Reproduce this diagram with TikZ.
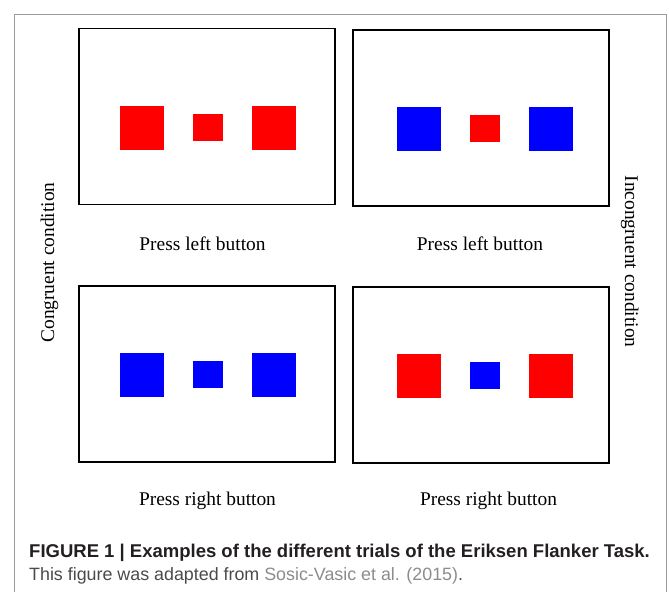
\documentclass[tikz,border=0pt]{standalone}
\usepackage{fontspec}
\setmainfont{Liberation Serif}
\newfontfamily\capfont{Liberation Sans}
\usetikzlibrary{positioning}
\definecolor{captext}{HTML}{231F20}
\definecolor{srctext}{HTML}{4A4A4A}
\definecolor{refgray}{HTML}{8C8C8C}
\definecolor{framegray}{HTML}{9A9A9A}

\begin{document}
\begin{tikzpicture}
[x=1pt,y=-1pt,
 panel/.style={draw=black,line width=1.5pt,minimum width=256pt,minimum height=176pt,inner sep=0pt},
 flank/.style={fill=#1,minimum size=44pt,inner sep=0pt},
 target/.style={fill=#1,minimum width=30pt,minimum height=27pt,inner sep=0pt},
 lab/.style={font=\fontsize{19.4}{22}\selectfont,anchor=base,inner sep=0pt},
 capline/.style={anchor=base west,inner sep=0pt,font=\capfont\fontsize{17.85}{22}\selectfont}]
\useasboundingbox (0,0) rectangle (669,592);
% figure frame, open at the bottom
\draw[framegray,line width=1pt] (14,592) |- (666.5,14) -- (666.5,592);
% the four screens
\node[panel] (p1) at (207,116.5) {};
\node[panel] (p2) at (481,118) {};
\node[panel] (p3) at (207,374) {};
\node[panel] (p4) at (481,375) {};
% target in the middle, flankers either side
\foreach \n/\x/\y/\fc/\tc in {1/208/127.5/red/red, 2/485/128.5/blue/red,
                              3/208/374.5/blue/blue, 4/485/375.5/red/blue}{
  \node[target=\tc] (t\n) at (\x,\y) {};
  \node[flank=\fc,left=29pt of t\n] (l\n) {};
  \node[flank=\fc,right=29pt of t\n] (r\n) {};
}
% responses
\node[lab] (a1) at (202.5,250) {Press left button};
\node[lab] (a2) at (480,250) {Press left button};
\node[lab] (a3) at (207.5,505) {Press right button};
\node[lab] (a4) at (488.5,505) {Press right button};
% conditions
\node[lab,rotate=90] (cong) at (54,262.5) {Congruent condition};
\node[lab,rotate=-90] (incong) at (625,261.5) {Incongruent condition};
% caption
\node[capline,font=\capfont\bfseries\fontsize{18.5}{22}\selectfont,text=captext] (title) at (29,557)
  {FIGURE 1 | Examples of the different trials of the Eriksen Flanker Task.};
\node[capline,text=srctext] (src) at (29,580)
  {This figure was adapted from \textcolor{refgray}{Sosic-Vasic et al. (2015)}.};
\end{tikzpicture}
\end{document}
